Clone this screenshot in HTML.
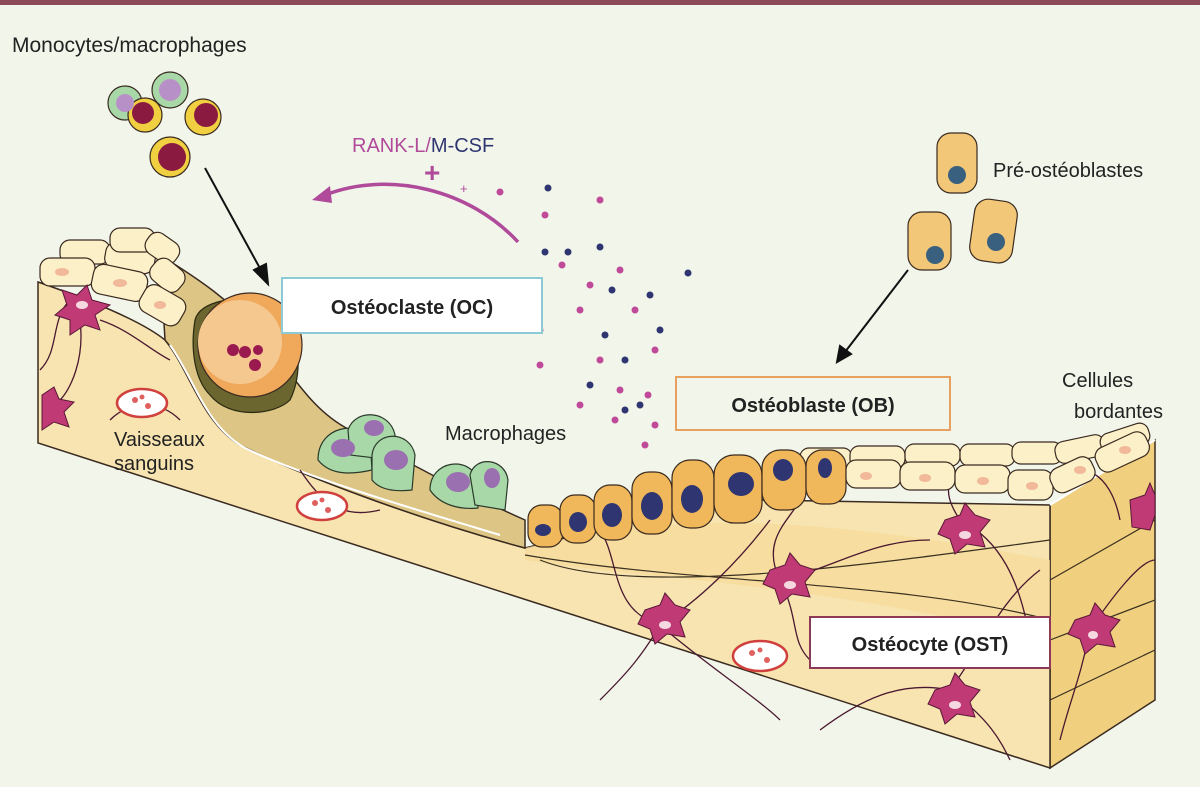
<!DOCTYPE html>
<html><head><meta charset="utf-8"><style>
html,body{margin:0;padding:0;background:#f2f6ea}
svg{display:block}
text{font-family:"Liberation Sans",sans-serif}
</style></head><body>
<svg width="1200" height="787" viewBox="0 0 1200 787" xmlns="http://www.w3.org/2000/svg">
<rect width="1200" height="787" fill="#f2f6ea"/>
<rect width="1200" height="5" fill="#8c4a58"/>

<!-- Right side face -->
<polygon points="1050,505 1155,440 1155,700 1050,768" fill="#f0cf7e" stroke="#3a2a20" stroke-width="1.5"/>
<!-- Front face -->
<path d="M38,282 C90,300 140,320 165,340 C190,370 200,420 240,445 C300,475 420,520 525,548 C600,530 680,505 760,500 L1050,505 L1050,768 L38,443 Z" fill="#f7e4b0" stroke="#3a2a20" stroke-width="1.5"/>
<path d="M525,548 C640,520 760,505 1050,560 L1050,640 C800,580 650,580 525,560 Z" fill="#f6dc9a" opacity=".7"/>
<path d="M525,555 C700,585 900,580 1050,620" stroke="#3a3020" fill="none" stroke-width="1.2"/>
<path d="M540,560 C640,600 900,560 1050,540" stroke="#3a3020" fill="none" stroke-width="1.2"/>
<path d="M1050,640 L1155,600 M1050,700 L1155,650 M1050,580 L1155,520" stroke="#3a3020" stroke-width="1.2"/>
<path d="M1050,505 L1155,440" stroke="#fff" stroke-width="2"/>
<!-- Slope top surface -->
<path d="M160,255 C200,280 230,300 260,335 C290,370 310,410 350,430 C420,470 480,500 525,520 L525,548 C420,520 300,475 240,445 C200,420 190,370 165,340 Z" fill="#dcc585" stroke="#3a2a20" stroke-width="1.5"/>
<path d="M170,345 C195,380 205,425 245,448 C300,475 400,505 500,535" stroke="#fff" stroke-width="2" fill="none"/>

<!-- Left lining cells -->
<g fill="#fbf0c8" stroke="#3a2a20" stroke-width="1.2">
<rect x="60" y="240" width="50" height="24" rx="10"/>
<rect x="105" y="245" width="50" height="26" rx="10" transform="rotate(10 130 258)"/>
<rect x="110" y="228" width="45" height="24" rx="10"/>
<rect x="145" y="236" width="35" height="24" rx="10" transform="rotate(35 162 248)"/>
<rect x="40" y="258" width="55" height="28" rx="10"/>
<rect x="92" y="268" width="55" height="30" rx="10" transform="rotate(12 120 283)"/>
<rect x="150" y="262" width="35" height="26" rx="10" transform="rotate(40 167 275)"/>
<rect x="140" y="290" width="45" height="30" rx="10" transform="rotate(30 162 305)"/>
</g>
<g fill="#f2b89a"><ellipse cx="62" cy="272" rx="7" ry="4"/><ellipse cx="120" cy="283" rx="7" ry="4"/><ellipse cx="160" cy="305" rx="6" ry="4"/></g>

<!-- canaliculi network -->
<g stroke="#4a1830" stroke-width="1.3" fill="none">
<path d="M70,300 C50,320 60,350 40,370 M100,320 C130,330 150,350 170,360 M80,320 C85,360 70,390 60,400 M110,420 C130,400 160,400 180,420"/>
<path d="M600,530 C620,560 610,610 660,625 M660,625 C700,600 740,560 770,520 M780,580 C760,540 790,520 800,500 M780,580 C830,570 870,540 930,540 M960,520 C940,490 950,480 960,470 M960,520 C1000,540 1020,580 1030,640 M660,625 C640,660 620,680 600,700 M660,625 C700,660 760,700 780,720 M950,690 C900,680 860,700 820,730 M950,690 C990,720 1000,740 1010,760 M780,580 C800,620 790,640 810,660 M950,690 C980,650 1000,600 1040,570 M1120,520 C1110,470 1080,460 1060,480 M1090,630 C1110,600 1140,560 1155,560 M1090,630 C1080,680 1070,700 1060,740 M300,470 C320,500 340,520 380,510"/>
</g>
<g fill="#c03b75" stroke="#5a1838" stroke-width="1">
<path d="M62,290 l15,5 10,-10 5,15 18,5 -15,10 5,15 -15,-5 -15,10 0,-15 -15,-5 12,-10 z"/>
<path d="M42,395 l12,-8 5,12 15,3 -10,10 5,15 -15,-5 -12,8 z"/>
<path d="M645,610 l15,-5 5,-12 10,12 15,5 -10,12 5,15 -18,-3 -12,10 -5,-15 -12,-5 z"/>
<path d="M770,570 l15,-5 5,-12 10,12 15,5 -10,12 5,15 -18,-3 -12,10 -5,-15 -12,-5 z"/>
<path d="M945,520 l15,-5 5,-12 10,12 15,5 -10,12 5,15 -18,-3 -12,10 -5,-15 -12,-5 z"/>
<path d="M935,690 l15,-5 5,-12 10,12 15,5 -10,12 5,15 -18,-3 -12,10 -5,-15 -12,-5 z"/>
<path d="M1075,620 l15,-5 5,-12 10,12 15,5 -10,12 5,15 -18,-3 -12,10 -5,-15 -12,-5 z"/>
<path d="M1130,500 l15,-5 5,-12 5,12 0,20 -5,15 -18,-3 z"/>
</g>
<g fill="#f5d8e0"><ellipse cx="82" cy="305" rx="6" ry="4"/><ellipse cx="665" cy="625" rx="6" ry="4"/><ellipse cx="790" cy="585" rx="6" ry="4"/><ellipse cx="965" cy="535" rx="6" ry="4"/><ellipse cx="955" cy="705" rx="6" ry="4"/><ellipse cx="1093" cy="635" rx="5" ry="4"/></g>
<g fill="#fff" stroke="#d0403c" stroke-width="2.5">
<ellipse cx="142" cy="403" rx="25" ry="14"/><ellipse cx="322" cy="506" rx="25" ry="14"/><ellipse cx="760" cy="656" rx="27" ry="15"/>
</g>
<g fill="#e06060"><circle cx="135" cy="400" r="3"/><circle cx="148" cy="406" r="3"/><circle cx="142" cy="397" r="2.5"/><circle cx="315" cy="503" r="3"/><circle cx="328" cy="510" r="3"/><circle cx="322" cy="500" r="2.5"/><circle cx="752" cy="653" r="3"/><circle cx="767" cy="660" r="3"/><circle cx="760" cy="650" r="2.5"/></g>

<!-- right lining cells back row -->
<g fill="#fbf0c8" stroke="#3a2a20" stroke-width="1.2">
<rect x="800" y="448" width="52" height="22" rx="9"/>
<rect x="850" y="446" width="55" height="22" rx="9"/>
<rect x="905" y="444" width="55" height="22" rx="9"/>
<rect x="960" y="444" width="55" height="22" rx="9"/>
<rect x="1012" y="442" width="50" height="22" rx="9"/>
<rect x="1055" y="438" width="50" height="22" rx="9" transform="rotate(-12 1080 449)"/>
<rect x="1100" y="428" width="50" height="22" rx="9" transform="rotate(-18 1125 439)"/>
</g>
<!-- Osteoblasts -->
<g fill="#f0b85a" stroke="#3a2a20" stroke-width="1.2">
<rect x="528" y="505" width="35" height="42" rx="14"/>
<rect x="560" y="495" width="36" height="48" rx="15"/>
<rect x="594" y="485" width="38" height="55" rx="16"/>
<rect x="632" y="472" width="40" height="62" rx="17"/>
<rect x="672" y="460" width="42" height="68" rx="18"/>
<rect x="714" y="455" width="48" height="68" rx="20"/>
<rect x="762" y="450" width="44" height="60" rx="18"/>
<rect x="806" y="450" width="40" height="54" rx="16"/>
</g>
<g fill="#2f3570"><ellipse cx="543" cy="530" rx="8" ry="6"/><ellipse cx="578" cy="522" rx="9" ry="10"/><ellipse cx="612" cy="515" rx="10" ry="12"/><ellipse cx="652" cy="506" rx="11" ry="14"/><ellipse cx="692" cy="499" rx="11" ry="14"/><ellipse cx="741" cy="484" rx="13" ry="12"/><ellipse cx="783" cy="470" rx="10" ry="11"/><ellipse cx="825" cy="468" rx="7" ry="10"/></g>
<g fill="#fbf0c8" stroke="#3a2a20" stroke-width="1.2">
<rect x="846" y="460" width="55" height="28" rx="10"/>
<rect x="900" y="462" width="55" height="28" rx="10"/>
<rect x="955" y="465" width="55" height="28" rx="10"/>
<rect x="1008" y="470" width="45" height="30" rx="10"/>
<rect x="1050" y="462" width="45" height="26" rx="10" transform="rotate(-25 1072 475)"/>
<rect x="1095" y="440" width="55" height="26" rx="10" transform="rotate(-25 1120 453)"/>
</g>
<g fill="#f2b89a"><ellipse cx="866" cy="476" rx="6" ry="4"/><ellipse cx="925" cy="478" rx="6" ry="4"/><ellipse cx="983" cy="481" rx="6" ry="4"/><ellipse cx="1032" cy="486" rx="6" ry="4"/><ellipse cx="1080" cy="470" rx="6" ry="4"/><ellipse cx="1125" cy="450" rx="6" ry="4"/></g>

<!-- Osteoclast -->
<path d="M195,320 C200,300 240,295 270,300 C300,320 305,370 290,400 C275,415 230,420 210,395 C195,380 190,350 195,320 Z" fill="#6b6530" stroke="#2a2a10" stroke-width="1.2"/>
<circle cx="250" cy="345" r="52" fill="#f0a85a" stroke="#3a2a20" stroke-width="1.2"/>
<circle cx="240" cy="342" r="42" fill="#f5c890"/>
<g fill="#9a1a50"><circle cx="233" cy="350" r="6"/><circle cx="245" cy="352" r="6"/><circle cx="258" cy="350" r="5"/><circle cx="255" cy="365" r="6"/></g>

<!-- Macrophages -->
<g fill="#a8d8a8" stroke="#2a3a2a" stroke-width="1.2">
<path d="M318,460 C318,425 360,420 370,440 L372,470 C350,475 330,475 318,460 Z"/>
<path d="M348,430 C355,408 390,410 395,435 L392,460 L350,455 Z"/>
<path d="M372,455 C375,430 410,430 415,455 L412,490 C395,492 380,490 372,480 Z"/>
<path d="M430,490 C430,460 470,455 478,480 L478,508 C460,510 440,505 430,490 Z"/>
<path d="M470,475 C475,455 505,458 508,480 L505,510 L475,505 Z"/>
</g>
<g fill="#9a70b0"><ellipse cx="343" cy="448" rx="12" ry="9"/><ellipse cx="374" cy="428" rx="10" ry="8"/><ellipse cx="396" cy="460" rx="12" ry="10"/><ellipse cx="458" cy="482" rx="12" ry="10"/><ellipse cx="492" cy="478" rx="8" ry="10"/></g>

<!-- Monocytes -->
<g stroke="#3a2a20" stroke-width="1.2">
<circle cx="125" cy="103" r="17" fill="#a8d8a8"/><circle cx="170" cy="90" r="18" fill="#a8d8a8"/>
<circle cx="145" cy="115" r="17" fill="#f0d040"/><circle cx="203" cy="117" r="18" fill="#f0d040"/>
<circle cx="170" cy="157" r="20" fill="#f0d040"/>
</g>
<g fill="#8a1a40"><circle cx="143" cy="113" r="11"/><circle cx="206" cy="115" r="12"/><circle cx="172" cy="157" r="14"/></g>
<g fill="#b890c8"><circle cx="125" cy="103" r="9"/><circle cx="170" cy="90" r="11"/></g>
<g fill="#f2c878" stroke="#3a2a20" stroke-width="1.2">
<rect x="937" y="133" width="40" height="60" rx="14"/>
<rect x="908" y="212" width="43" height="58" rx="14"/>
<rect x="972" y="200" width="43" height="62" rx="14" transform="rotate(8 993 231)"/>
</g>
<g fill="#3a6080"><circle cx="957" cy="175" r="9"/><circle cx="935" cy="255" r="9"/><circle cx="996" cy="242" r="9"/></g>

<g stroke="#111" stroke-width="2" fill="#111">
<line x1="205" y1="168" x2="262" y2="272"/><polygon points="268,284 254,270 266,264"/>
<line x1="908" y1="270" x2="845" y2="352"/><polygon points="837,362 840,346 851,354"/>
</g>
<path d="M518,242 C470,190 390,170 325,195" stroke="#b04a9a" stroke-width="3.5" fill="none"/>
<polygon points="312,200 330,186 332,203" fill="#b04a9a"/>
<g fill="#c04a9a">
<circle cx="500" cy="192" r="3.5"/><circle cx="545" cy="215" r="3.5"/><circle cx="600" cy="200" r="3.5"/><circle cx="562" cy="265" r="3.5"/><circle cx="590" cy="285" r="3.5"/><circle cx="620" cy="270" r="3.5"/><circle cx="580" cy="310" r="3.5"/><circle cx="635" cy="310" r="3.5"/><circle cx="540" cy="330" r="3.5"/><circle cx="600" cy="360" r="3.5"/><circle cx="655" cy="350" r="3.5"/><circle cx="540" cy="365" r="3.5"/><circle cx="580" cy="405" r="3.5"/><circle cx="620" cy="390" r="3.5"/><circle cx="648" cy="395" r="3.5"/><circle cx="615" cy="420" r="3.5"/><circle cx="645" cy="445" r="3.5"/><circle cx="655" cy="425" r="3.5"/>
</g>
<g fill="#2f3570">
<circle cx="548" cy="188" r="3.5"/><circle cx="545" cy="252" r="3.5"/><circle cx="568" cy="252" r="3.5"/><circle cx="600" cy="247" r="3.5"/><circle cx="688" cy="273" r="3.5"/><circle cx="612" cy="290" r="3.5"/><circle cx="650" cy="295" r="3.5"/><circle cx="605" cy="335" r="3.5"/><circle cx="660" cy="330" r="3.5"/><circle cx="625" cy="360" r="3.5"/><circle cx="590" cy="385" r="3.5"/><circle cx="640" cy="405" r="3.5"/><circle cx="625" cy="410" r="3.5"/>
</g>
<text x="460" y="193" font-size="13" fill="#b04a9a">+</text>

<text x="12" y="52" font-size="21" fill="#222">Monocytes/macrophages</text>
<text x="352" y="152" font-size="20" fill="#b04a9a">RANK-L/<tspan fill="#2f3570">M-CSF</tspan></text>
<text x="424" y="182" font-size="28" font-weight="bold" fill="#b04a9a">+</text>
<text x="993" y="177" font-size="20" fill="#222">Pré-ostéoblastes</text>
<text x="1062" y="387" font-size="20" fill="#222">Cellules</text>
<text x="1074" y="418" font-size="20" fill="#222">bordantes</text>
<text x="445" y="440" font-size="20" fill="#222">Macrophages</text>
<text x="114" y="446" font-size="20" fill="#222">Vaisseaux</text>
<text x="114" y="470" font-size="20" fill="#222">sanguins</text>

<rect x="282" y="278" width="260" height="55" fill="#fff" stroke="#8ccad8" stroke-width="2"/>
<text x="412" y="314" font-size="20" font-weight="bold" fill="#222" text-anchor="middle">Ostéoclaste (OC)</text>
<rect x="676" y="377" width="274" height="53" fill="#f2f6ea" stroke="#e8a060" stroke-width="2"/>
<text x="813" y="412" font-size="20" font-weight="bold" fill="#222" text-anchor="middle">Ostéoblaste (OB)</text>
<rect x="810" y="617" width="240" height="51" fill="#fff" stroke="#8c3a58" stroke-width="2"/>
<text x="930" y="651" font-size="20" font-weight="bold" fill="#222" text-anchor="middle">Ostéocyte (OST)</text>
</svg>
</body></html>
